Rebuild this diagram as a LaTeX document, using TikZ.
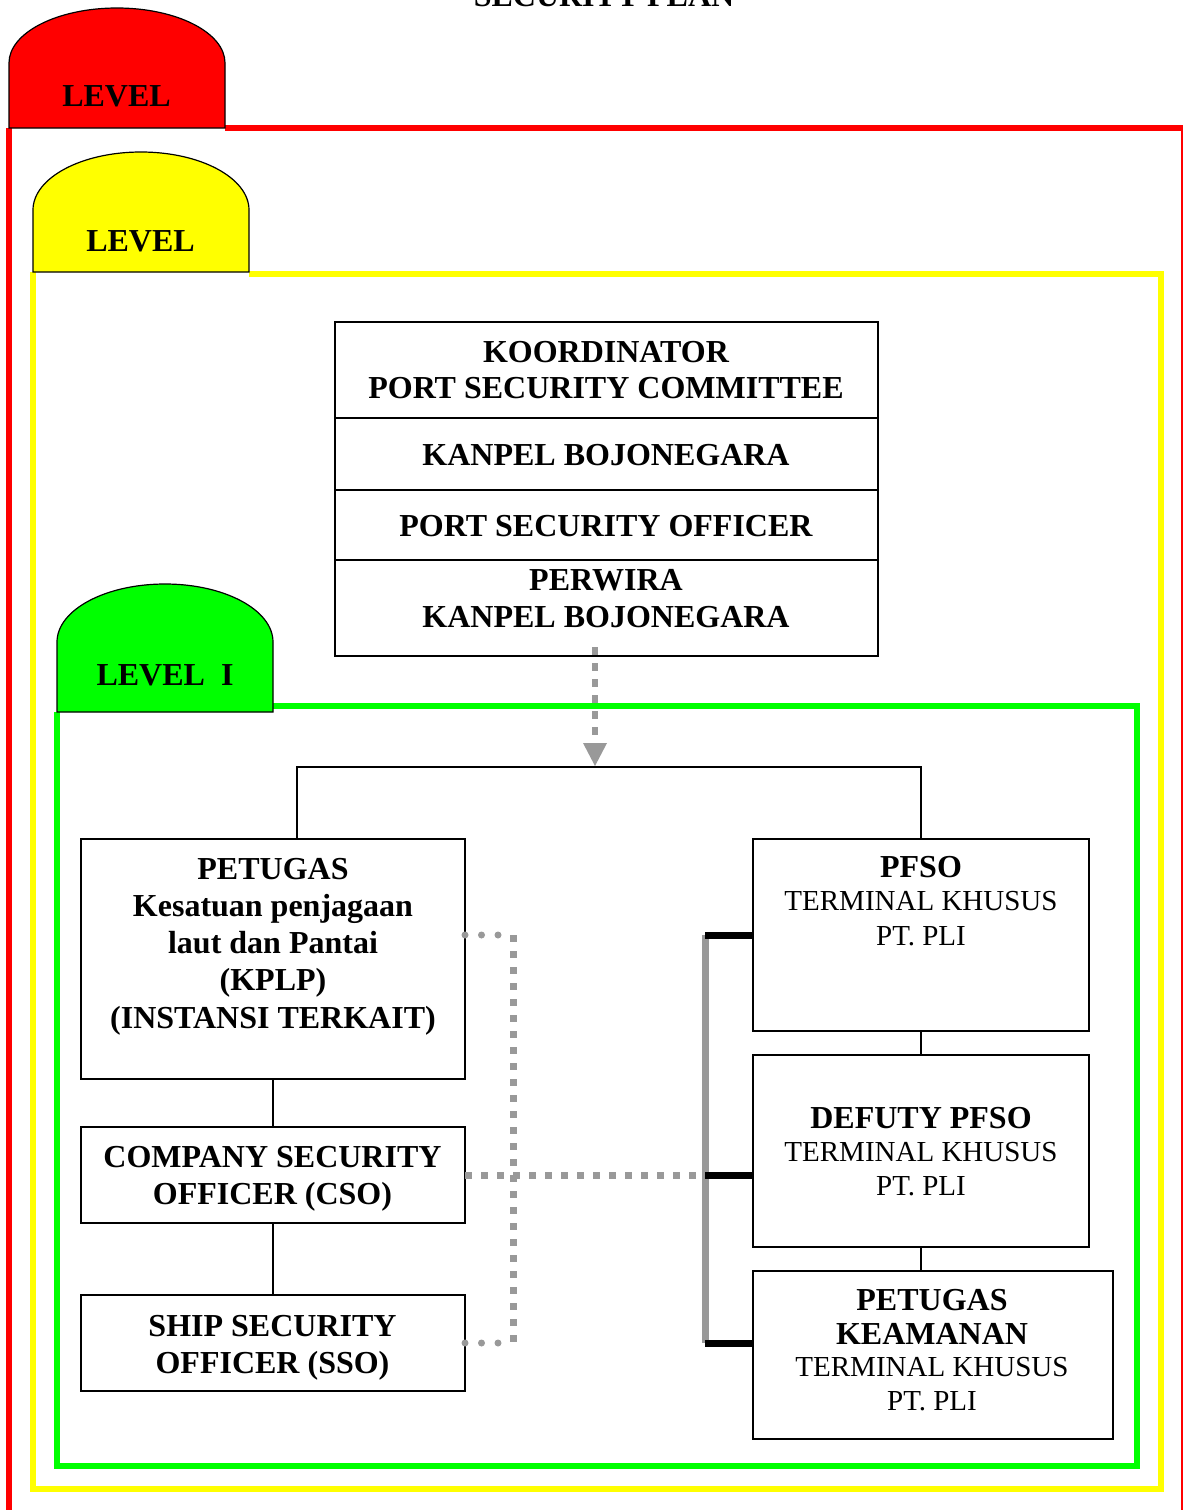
\documentclass[tikz,border=0pt]{standalone}
\usepackage{fontspec}
\setmainfont{Liberation Serif}
\usetikzlibrary{arrows.meta}
\definecolor{lvred}{RGB}{255,0,0}
\definecolor{lvyellow}{RGB}{255,255,0}
\definecolor{lvgreen}{RGB}{0,255,0}
\definecolor{lvgray}{RGB}{153,153,153}
\newcommand\mylines[1]{\begin{tabular}[t]{@{}c@{}}#1\end{tabular}}
\begin{document}
\begin{tikzpicture}[x=1pt,y=-1pt,
  box/.style={draw=black, line width=1.8pt, anchor=north west, inner sep=0pt, outer sep=0pt},
  bt/.style={font=\fontsize{32}{36.5}\selectfont\bfseries, anchor=base, inner sep=0pt},
  rt/.style={font=\fontsize{29}{34}\selectfont, anchor=base, inner sep=0pt},
  conn/.style={draw=black, line width=1.8pt},
  tabshape/.style={draw=black, line width=1.2pt},
  frame/.style={line width=6pt},
  graydash/.style={draw=lvgray, line width=6pt, dash pattern=on 8pt off 8pt,
     -{Triangle[width=24pt,length=23pt,line width=0pt,fill=lvgray]}},
  sdots/.style={draw=lvgray, line width=7pt, dash pattern=on 7pt off 9pt},
  rdots/.style={draw=lvgray, line width=7pt, line cap=round, dash pattern=on 0pt off 16.5pt},
  stub/.style={draw=black, line width=7pt},
  rail/.style={draw=lvgray, line width=7pt}]
\fill[white] (0,0) rectangle (1183,1510);
\useasboundingbox (0,0) rectangle (1183,1510);

% title (cut off by the page edge, as in the reference)
\node[bt] (title) at (604,6.5) {SECURITY PLAN};

% frames
\draw[frame, lvred] (9,128) -- (9,1515);
\draw[frame, lvred] (225,128) -- (1188,128);
\draw[line width=1.5pt, lvred] (1182,128) -- (1182,1515);
\draw[frame, lvyellow, line join=miter] (249,274) -- (1161,274) -- (1161,1489) -- (33,1489) -- (33,272);
\draw[frame, lvgreen, line join=miter] (273,706) -- (1137,706) -- (1137,1466) -- (57,1466) -- (57,712);

% tabs
\draw[tabshape, fill=lvred] (9,128) -- (9,63) arc[start angle=180,end angle=0,x radius=108pt,y radius=55pt] -- (225,128) -- cycle;
\draw[tabshape, fill=lvyellow] (33,272) -- (33,210) arc[start angle=180,end angle=0,x radius=108pt,y radius=58pt] -- (249,272) -- cycle;
\draw[tabshape, fill=lvgreen] (57,712) -- (57,642) arc[start angle=180,end angle=0,x radius=108pt,y radius=58pt] -- (273,712) -- cycle;
\node[bt] (lvl1) at (116.5,106) {LEVEL};
\node[bt] (lvl2) at (140.5,251) {LEVEL};
\node[bt] (lvl3) at (165,685) {LEVEL\ \ I};

% top stack
\node[box, minimum width=543pt, minimum height=96pt] (s1) at (335,322) {};
\node[box, minimum width=543pt, minimum height=72pt] (s2) at (335,418) {};
\node[box, minimum width=543pt, minimum height=70pt] (s3) at (335,490) {};
\node[box, minimum width=543pt, minimum height=96pt] (s4) at (335,560) {};
\node[bt] (t1) at (606,362) {\mylines{KOORDINATOR\\[-0.5pt]PORT SECURITY COMMITTEE}};
\node[bt] (t2) at (606,465) {KANPEL BOJONEGARA};
\node[bt] (t3) at (606,536) {PORT SECURITY OFFICER};
\node[bt] (t4) at (606,590) {\mylines{PERWIRA\\[0.5pt]KANPEL BOJONEGARA}};

% left column
\node[box, minimum width=384pt, minimum height=240pt] (petugas) at (81,839) {};
\node[box, minimum width=384pt, minimum height=96pt] (cso) at (81,1127) {};
\node[box, minimum width=384pt, minimum height=96pt] (sso) at (81,1295) {};
\node[bt, font=\fontsize{32}{37.3}\selectfont\bfseries] (tpet) at (273,879) {\mylines{PETUGAS\\Kesatuan penjagaan\\laut dan Pantai\\(KPLP)\\(INSTANSI TERKAIT)}};
\node[bt] (tcso) at (272.5,1167) {\mylines{COMPANY SECURITY\\[1pt]OFFICER (CSO)}};
\node[bt] (tsso) at (272.5,1336) {\mylines{SHIP SECURITY\\[1pt]OFFICER (SSO)}};

% right column
\node[box, minimum width=336pt, minimum height=192pt] (pfso) at (753,839) {};
\node[box, minimum width=336pt, minimum height=192pt] (defuty) at (753,1055) {};
\node[box, minimum width=360pt, minimum height=168pt] (keam) at (753,1271) {};
\node[rt] (tpfso) at (921,877) {\mylines{{\fontsize{32}{36}\selectfont\bfseries PFSO}\\[-1pt]TERMINAL KHUSUS\\[1pt]PT. PLI}};
\node[rt] (tdef) at (921,1128) {\mylines{{\fontsize{32}{36}\selectfont\bfseries DEFUTY PFSO}\\[-1pt]TERMINAL KHUSUS\\PT. PLI}};
\node[rt] (tkeam) at (932,1310) {\mylines{{\fontsize{32}{36}\selectfont\bfseries PETUGAS}\\[0pt]{\fontsize{32}{36}\selectfont\bfseries KEAMANAN}\\[-2pt]TERMINAL KHUSUS\\[0pt]PT. PLI}};

% tree connectors
\coordinate (busL) at (297,767);
\draw[conn] (petugas.north -| busL) -- (busL) -| (pfso.north);
\draw[conn] (petugas) -- (cso);
\draw[conn] (cso) -- (sso);
\draw[conn] (pfso) -- (defuty);
\draw[conn] (defuty.south) -- (keam.north -| defuty.south);

% gray dashed arrow
\coordinate (arrS) at (595,647);
\coordinate (arrE) at (595,766);
\draw[graydash] (arrS) -- (arrE);

% right bracket
\coordinate (bk1) at (705,935);
\coordinate (bk2) at (705,1175);
\coordinate (bk3) at (705,1343);
\draw[rail] (bk1) -- (bk3);
\draw[stub] (bk1) -- (pfso.west |- bk1);
\draw[stub] (bk2) -- (defuty.west |- bk2);
\draw[stub] (bk3) -- (keam.west |- bk3);

% dotted links
\coordinate (dr1) at (499,935);
\coordinate (dr2) at (499,1343);
\coordinate (dv1) at (513,935);
\coordinate (dv2) at (513,1343);
\draw[rdots] (petugas.east |- dr1) -- (dr1);
\draw[rdots] (sso.east) -- (dr2);
\draw[sdots] (dv1) -- (dv2);
\draw[sdots] (cso.east) -- (bk2);
\end{tikzpicture}
\end{document}
